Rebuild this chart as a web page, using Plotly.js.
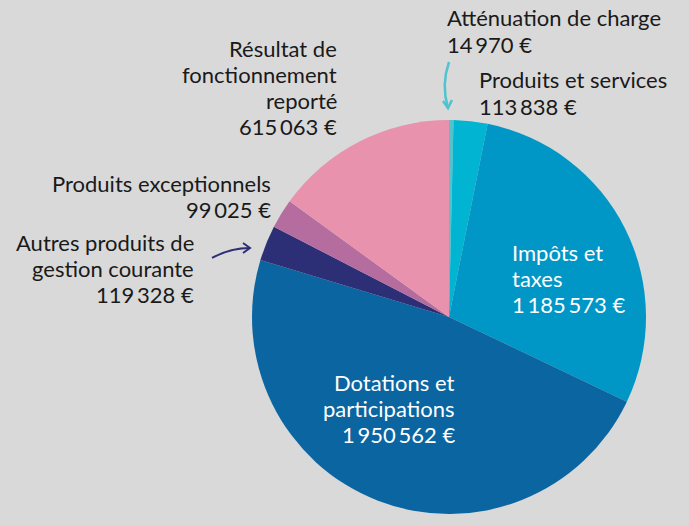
<!DOCTYPE html>
<html><head><meta charset="utf-8">
<script src="https://cdn.plot.ly/plotly-3.0.1.min.js"></script>
<style>html,body{margin:0;padding:0;background:#d9d9d9;}</style>
</head><body>
<div id="chart" style="width:689px;height:526px;"></div>
<script>
const categories = ["Atténuation de charge","Produits et services","Impôts et taxes","Dotations et participations","Autres produits de gestion courante","Produits exceptionnels","Résultat de fonctionnement reporté"];
const values = [14970, 113838, 1185573, 1950562, 119328, 99025, 615063];
const colors = ["#4fc4cf","#00b4d2","#0096c6","#0a65a1","#2c2f75","#b56c9f","#e892ae"];
const valueLabels = ["14\u2009970\u00a0€","113\u2009838\u00a0€","1\u2009185\u2009573\u00a0€","1\u2009950\u2009562\u00a0€","119\u2009328\u00a0€","99\u2009025\u00a0€","615\u2009063\u00a0€"];
const nameLines = [
  ["Atténuation de charge"],
  ["Produits et services"],
  ["Impôts et","taxes"],
  ["Dotations et","participations"],
  ["Autres produits de","gestion courante"],
  ["Produits exceptionnels"],
  ["Résultat de","fonctionnement","reporté"]
];

const W = 689, H = 526;
const px = x => x / W, py = y => 1 - y / H;
const cx = 449, cy = 317, r = 197;
const LH = 26.3;

// label placement: pixel anchor of first line, alignment, colour
const lab = [
  {x:445, y:18, a:'left', c:'#1a1a1a'},
  {x:477, y:80, a:'left', c:'#1a1a1a'},
  {x:510, y:252, a:'left', c:'#ffffff'},
  {x:457, y:382, a:'right', c:'#ffffff'},
  {x:196, y:242, a:'right', c:'#1a1a1a'},
  {x:273, y:183, a:'right', c:'#1a1a1a'},
  {x:339, y:48, a:'right', c:'#1a1a1a'}
];

const annotations = [];
nameLines.forEach((lines,i)=>{
  const all = lines.concat([valueLabels[i]]);
  all.forEach((t,j)=>{
    annotations.push({
      text: t, x: px(lab[i].x), y: py(lab[i].y + j*LH), xref:'paper', yref:'paper',
      xanchor: lab[i].a, yanchor:'middle', align: lab[i].a, showarrow:false,
      font:{family:'Lato, sans-serif', size:22, color:lab[i].c}
    });
  });
});

function P(x,y){ return px(x).toFixed(5)+','+py(y).toFixed(5); }
const shapes = [
  {type:'path', xref:'paper', yref:'paper',
   path:'M'+P(449,62)+' Q'+P(441,85)+' '+P(448,108), line:{color:'#4fc4cf', width:2.5}},
  {type:'path', xref:'paper', yref:'paper',
   path:'M'+P(443,101)+' L'+P(448,108)+' L'+P(452,100), line:{color:'#4fc4cf', width:2.5}},
  {type:'path', xref:'paper', yref:'paper',
   path:'M'+P(212,258)+' Q'+P(230,248)+' '+P(250,248), line:{color:'#2c2f75', width:2}},
  {type:'path', xref:'paper', yref:'paper',
   path:'M'+P(243,243)+' L'+P(250,248)+' L'+P(243,253), line:{color:'#2c2f75', width:2}}
];

const data = [{
  type:'pie', labels:categories, values:values, sort:false, direction:'clockwise', rotation:0,
  marker:{colors:colors, line:{width:0}}, textinfo:'none', hoverinfo:'none',
  domain:{x:[px(cx-r), px(cx+r)], y:[py(cy+r), py(cy-r)]}
}];
const layout = {
  width:W, height:H, margin:{l:0,r:0,t:0,b:0}, showlegend:false,
  paper_bgcolor:'#d9d9d9', plot_bgcolor:'#d9d9d9',
  annotations:annotations, shapes:shapes
};
Plotly.newPlot('chart', data, layout, {displayModeBar:false, staticPlot:true});
</script>
</body></html>
